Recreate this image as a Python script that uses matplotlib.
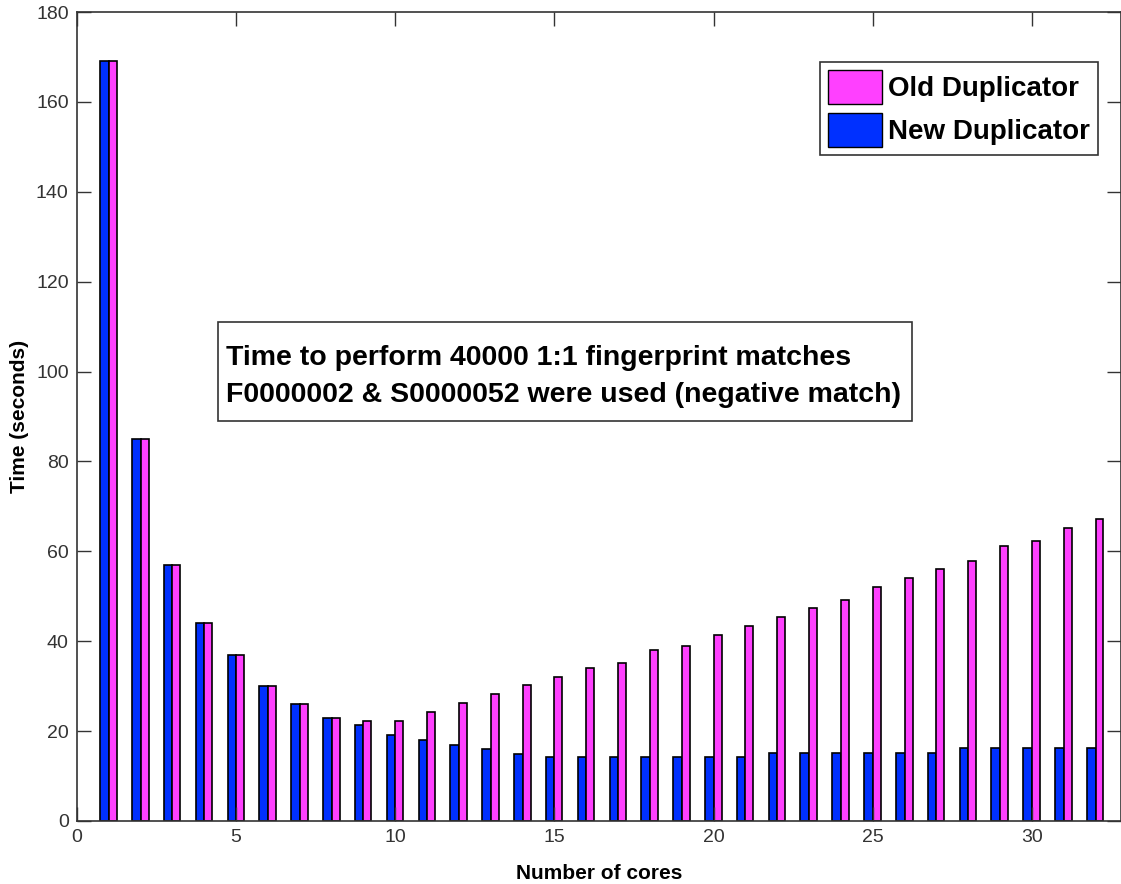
import numpy as np
import matplotlib
matplotlib.use('Agg')
import matplotlib.pyplot as plt
from matplotlib.patches import Patch, Rectangle

cores = np.arange(1, 33)
old_dup = [169, 85, 57, 44, 37, 30, 26, 23, 22.2, 22.2, 24.2, 26.2, 28.2, 30.2, 32.1, 34.1,
           35.1, 38.1, 39.0, 41.3, 43.3, 45.3, 47.3, 49.2, 52.1, 54.0, 56.0, 57.9, 61.2, 62.2, 65.1, 67.1]
new_dup = [169, 85, 57, 44, 37, 30, 26, 23, 21.3, 19.1, 18.1, 17.0, 16.1, 15.0, 14.2, 14.2,
           14.2, 14.2, 14.2, 14.2, 14.2, 15.1, 15.1, 15.1, 15.1, 15.1, 15.1, 16.2, 16.2, 16.2, 16.2, 16.2]

plt.rcParams['font.family'] = ['Liberation Sans', 'DejaVu Sans']

blue = '#0030ff'
pink = '#ff40ff'
tick_col = '#333333'

fig = plt.figure(figsize=(11.21, 8.84), dpi=100)
ax = fig.add_axes([0.0687, 0.0713, 0.9313, 0.9151])

ax.bar(cores - 0.27, new_dup, width=0.27, align='edge', color=blue, edgecolor='black', linewidth=1.2)
ax.bar(cores, old_dup, width=0.25, align='edge', color=pink, edgecolor='black', linewidth=1.2)

ax.set_xlim(0, 32.8)
ax.set_ylim(0, 180)
ax.set_xticks(range(0, 31, 5))
ax.set_yticks(range(0, 181, 20))
ax.tick_params(direction='in', length=10, width=1, colors=tick_col, labelsize=14,
               top=True, right=True, pad=6)
ax.tick_params(axis='x', pad=6)
for s in ax.spines.values():
    s.set_color(tick_col)
    s.set_linewidth(1.2)

ax.set_xlabel('Number of cores', fontsize=15, fontweight='bold', labelpad=13)
ax.set_ylabel('Time (seconds)', fontsize=15, fontweight='bold', labelpad=5)

handles = [Patch(facecolor=pink, edgecolor='black'), Patch(facecolor=blue, edgecolor='black')]
leg = ax.legend(handles, ['Old Duplicator', 'New Duplicator'], loc='upper right',
                bbox_to_anchor=(0.9775, 0.9385), fancybox=False, framealpha=1,
                edgecolor=tick_col, handlelength=1.95, handleheight=1.55, handletextpad=0.2,
                labelspacing=0.3, borderpad=0.28, borderaxespad=0,
                prop={'weight': 'bold', 'size': 20})
leg.get_frame().set_linewidth(1.2)

# annotation box drawn separately so the padding can be taller than wide
ax.add_patch(Rectangle((0.135, 0.4944), 0.6648, 0.1224, transform=ax.transAxes,
                       facecolor='white', edgecolor=tick_col, linewidth=1.2, zorder=4))
ax.text(0.1427, 0.5494, 'Time to perform 40000 1:1 fingerprint matches\nF0000002 & S0000052 were used (negative match)',
        transform=ax.transAxes, fontsize=20.5, fontweight='bold', va='center', ha='left',
        linespacing=1.55, zorder=5)

fig.savefig('out.png', dpi=100)
